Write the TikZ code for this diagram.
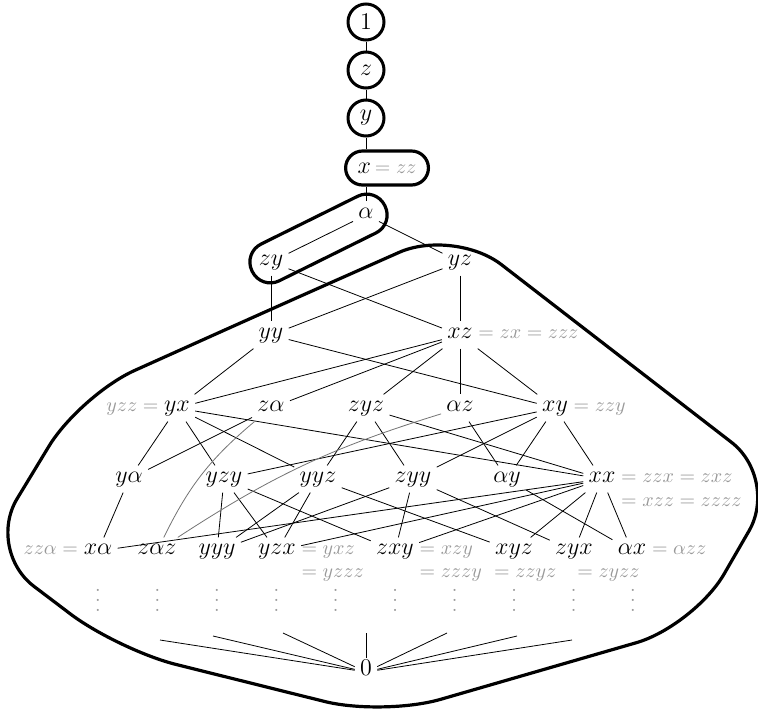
\documentclass[tikz,border=0pt]{standalone}
\usepackage{amsmath,amssymb}
\usetikzlibrary{calc}
\colorlet{eqgray}{black!40}
\newcommand{\dotcolumn}{\vbox{\baselineskip=5pt\lineskiplimit=0pt\hbox{.}\hbox{.}\hbox{.}}}

\begin{document}
\begin{tikzpicture}[x=0.5pt,y=-0.5pt,
    elem/.style={font=\large, inner sep=2.5pt, text height=6pt, text depth=2.2pt},
    gen/.style={circle, draw, line width=1.5pt, minimum size=18pt, inner sep=0pt, font=\large},
    classbox/.style={draw, line width=1.6pt, rounded corners=8.5pt},
    eqtext/.style={text=eqgray, inner sep=0pt},
    curved/.style={black!55}]
    \useasboundingbox (0,0) rectangle (758,712);

    % top chain
    \node[gen] (one) at (366,22) {$1$};
    \node[gen] (z) at (366,70) {$z$};
    \node[gen] (y) at (366,118) {$y$};
    \node[classbox, anchor=west, inner xsep=6pt, minimum height=17pt, font=\large] (x) at (344,168) {$x$\,{\normalsize\color{eqgray}$=zz$}};
    \node[elem] (alpha) at (366,215) {$\alpha$};
    \node[elem] (zy) at (271,262) {$zy$};
    \node[elem] (yz) at (460,262) {$yz$};
    \path (zy.center) -- (alpha.center) node[midway, sloped, classbox, rounded corners=10pt, minimum width=74pt, minimum height=20.5pt] (pairbox) {};

    % rows
    \node[elem] (yy) at (271,335) {$yy$};
    \node[elem] (xz) at (460,335) {$xz$};
    \node[eqtext, anchor=base west] (xzeq) at (xz.base east) {$= zx = zzz$};

    \node[elem] (yx) at (177,408) {$yx$};
    \node[eqtext, anchor=base east] (yxeq) at (yx.base west) {$yzz =$};
    \node[elem] (zalpha) at (271,408) {$z\alpha$};
    \node[elem] (zyz) at (366,408) {$zyz$};
    \node[elem] (alphaz) at (460,408) {$\alpha z$};
    \node[elem] (xy) at (555,408) {$xy$};
    \node[eqtext, anchor=base west] (xyeq) at (xy.base east) {$= zzy$};

    \node[elem] (yalpha) at (129,479) {$y\alpha$};
    \node[elem] (yzy) at (224,479) {$yzy$};
    \node[elem] (yyz) at (318,479) {$yyz$};
    \node[elem] (zyy) at (413,479) {$zyy$};
    \node[elem] (alphay) at (507,479) {$\alpha y$};
    \node[elem] (xx) at (602,479) {$xx$};
    \node[eqtext, anchor=base west] (xxeq) at (xx.base east) {$= zzx = zxz$};
    \node[eqtext, anchor=base west] (xxeqb) at ([yshift=-12pt]xxeq.base west) {$= xzz = zzzz$};

    \node[elem] (xalpha) at (98,551) {$x\alpha$};
    \node[eqtext, anchor=base east] (xalphaeq) at (xalpha.base west) {$zz\alpha =$};
    \node[elem] (zalphaz) at (157,551) {$z\alpha z$};
    \node[elem] (yyy) at (217,551) {$yyy$};
    \node[elem] (yzx) at (277,551) {$yzx$};
    \node[eqtext, anchor=base west] (yzxeq) at (yzx.base east) {$= yxz$};
    \node[eqtext, anchor=base west] (yzxeqb) at ([yshift=-11.5pt]yzxeq.base west) {$= yzzz$};
    \node[elem] (zxy) at (395,551) {$zxy$};
    \node[eqtext, anchor=base west] (zxyeq) at (zxy.base east) {$= xzy$};
    \node[eqtext, anchor=base west] (zxyeqb) at ([yshift=-11.5pt]zxyeq.base west) {$= zzzy$};
    \node[elem] (xyz) at (514,551) {$xyz$};
    \node[eqtext, anchor=base west] (xyzeqb) at ([xshift=2pt,yshift=-11.5pt]xyz.base west) {$= zzyz$};
    \node[elem] (zyx) at (574,551) {$zyx$};
    \node[eqtext, anchor=base west] (zyxeqb) at ([xshift=1.5pt,yshift=-11.5pt]zyx.base) {$= zyzz$};
    \node[elem] (alphax) at (632,551) {$\alpha x$};
    \node[eqtext, anchor=base west] (alphaxeq) at (alphax.base east) {$= \alpha zz$};

    % vertical dots
    \foreach \c in {0,...,9}
        \node[eqtext] (dots\c) at ({98+59.44*\c},600) {\dotcolumn};

    \node[elem] (zero) at (366,672) {$0$};
    \coordinate (fan1) at (160,640);
    \coordinate (fan2) at (213,636);
    \coordinate (fan3) at (283,633);
    \coordinate (fan4) at (366,633);
    \coordinate (fan5) at (447,633);
    \coordinate (fan6) at (517,636);
    \coordinate (fan7) at (572,640);

    % edges
    \draw (one) -- (z) -- (y);
    \draw (y) -- (y |- x.north);
    \draw (x.south -| alpha) -- (alpha);
    \draw (alpha) -- (zy);
    \draw (alpha) -- (yz);
    \draw (zy) -- (yy);
    \draw (zy) -- (xz);
    \draw (yz) -- (yy);
    \draw (yz) -- (xz);
    \draw (yy) -- (yx);
    \draw (yy) -- (xy);
    \draw (xz) -- (yx);
    \draw (xz) -- (zalpha);
    \draw (xz) -- (zyz);
    \draw (xz) -- (alphaz);
    \draw (xz) -- (xy);
    \draw (yx) -- (yalpha);
    \draw (yx) -- (yzy);
    \draw (yx) -- (yyz);
    \draw (yx) -- (xx);
    \draw (zalpha) -- (yalpha);
    \draw (zyz) -- (yyz);
    \draw (zyz) -- (zyy);
    \draw (zyz) -- (xx);
    \draw (alphaz) -- (alphay);
    \draw (xy) -- (yzy);
    \draw (xy) -- (zyy);
    \draw (xy) -- (alphay);
    \draw (xy) -- (xx);
    \draw (yalpha) -- (xalpha);
    \draw (yzy) -- (yyy);
    \draw (yzy) -- (yzx);
    \draw (yzy) -- (zxy);
    \draw (yyz) -- (yyy);
    \draw (yyz) -- (yzx);
    \draw (yyz) -- (xyz);
    \draw (zyy) -- (yyy);
    \draw (zyy) -- (zxy);
    \draw (zyy) -- (zyx);
    \draw (alphay) -- (alphax);
    \draw (xx) -- (xalpha);
    \draw (xx) -- (yzx);
    \draw (xx) -- (zxy);
    \draw (xx) -- (xyz);
    \draw (xx) -- (zyx);
    \draw (xx) -- (alphax);
    \draw[curved] (zalpha) to[bend right=12] (zalphaz);
    \draw[curved] (alphaz) to[bend right=8] (zalphaz);
    \foreach \f in {1,...,7}
        \draw (fan\f) -- (zero);

    % the big class
    \draw[line width=1.6pt, rounded corners=30pt] (267,311) -- (454,228) -- (779,479) -- (694,626) -- (383,716) -- (118,650) -- (-14,550) -- (80,395) -- cycle;
\end{tikzpicture}
\end{document}
